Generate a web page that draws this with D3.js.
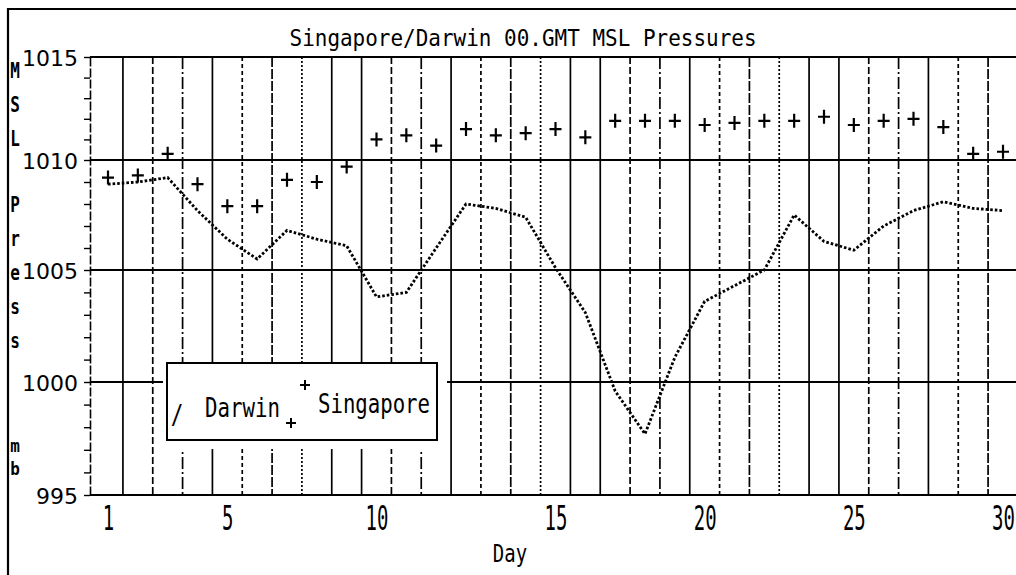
<!DOCTYPE html>
<html>
<head>
<meta charset="utf-8">
<script src="https://cdn.jsdelivr.net/npm/d3@7"></script>
<style>
body { margin: 0; background: #fff; }
svg { display: block; }
</style>
</head>
<body>
<svg id="chart" width="1016" height="575"></svg>
<script>
// daily 00 GMT readings
var days = [1,2,3,4,5,6,7,8,9,10,11,12,13,14,15,16,17,18,19,20,21,22,23,24,25,26,27,28,29,30,31];
var darwin = [1008.9,1009.0,1009.2,1007.7,1006.4,1005.5,1006.8,1006.4,1006.1,1003.8,1004.0,1006.0,1008.0,1007.8,1007.4,1005.1,1003.1,999.6,997.7,1001.1,1003.6,1004.3,1005.0,1007.5,1006.3,1005.9,1007.0,1007.7,1008.1,1007.8,1007.7];
var singapore = [1009.2,1009.3,1010.3,1008.9,1007.9,1007.9,1009.1,1009.0,1009.7,1011.0,1011.2,1010.7,1011.5,1011.2,1011.3,1011.5,1011.1,1011.9,1011.9,1011.9,1011.7,1011.8,1011.9,1011.9,1012.1,1011.7,1011.9,1012.0,1011.6,1010.3,1010.4];

// the printed day labels do not sit evenly on the day spacing
var dayTicks = [1,5,10,16,21,26,31];
var dayTickLabels = ["1","5","10","15","20","25","30"];
var pressTicks = [995,1000,1005,1010,1015];
var gridLevels = [1000,1005,1010];
var yTitleGroups = [["M","S","L"],["P","r","e","s","s"],["m","b"]];

var svg = d3.select("#chart");
var mono = "'DejaVu Sans Mono', 'Liberation Mono', monospace";

var left = 90, right = 1016;
var x = d3.scaleLinear().domain([1,31]).range([108,1003]);
// scan is slightly uneven, so the pressure scale is piecewise
var y = d3.scaleLinear().domain(pressTicks).range([495,382,270,160,57]);

// tall, narrow dot-matrix style text
function stretchText(parent, tx, ty, str, size, sy, anchor, len){
  var g = parent.append("g").attr("transform", "translate(" + tx + "," + ty + ") scale(1," + sy + ")");
  var t = g.append("text")
    .attr("font-family", mono)
    .attr("font-size", size)
    .attr("text-anchor", anchor || "start")
    .attr("fill", "#000")
    .text(str);
  if(len) t.attr("textLength", len).attr("lengthAdjust", "spacingAndGlyphs");
  return t;
}

// outer frame
svg.append("path")
  .attr("d", "M8,575V9H1016")
  .attr("fill", "none").attr("stroke", "#000").attr("stroke-width", 2.2);

stretchText(svg, 523, 46, "Singapore/Darwin 00.GMT MSL Pressures", 21, 1.12, "middle", 467);

// day separators, printed with uneven ribbons
var dashes = ["", "7,3", "12,3,2,3", "", "4,3", "10,2", "2,2", ""];
svg.append("g").selectAll("line")
  .data(days.slice(0, -1))
  .join("line")
  .attr("x1", d => x(d + 0.5)).attr("x2", d => x(d + 0.5))
  .attr("y1", y(1015)).attr("y2", y(995))
  .attr("stroke", "#000")
  .attr("stroke-width", 1.7)
  .attr("stroke-dasharray", (d, i) => dashes[i % dashes.length]);

// pressure gridlines and plot edges
svg.append("g").selectAll("line")
  .data(gridLevels.concat([995, 1015]))
  .join("line")
  .attr("x1", left).attr("x2", right)
  .attr("y1", d => y(d)).attr("y2", d => y(d))
  .attr("stroke", "#000")
  .attr("stroke-width", 2.2);

// y axis
var yAxis = d3.axisLeft(y)
  .tickValues(d3.range(995, 1016))
  .tickSize(6).tickSizeOuter(0).tickPadding(6)
  .tickFormat(d => d % 5 === 0 ? d : "");
var yg = svg.append("g").attr("transform", "translate(" + left + ",0)").call(yAxis);
yg.select(".domain").attr("stroke-width", 1.6).attr("stroke-dasharray", "9,2");
yg.selectAll(".tick line").attr("stroke-width", 1.4);
yg.selectAll(".tick text")
  .attr("font-family", "'DejaVu Sans', sans-serif")
  .attr("font-size", 22)
  .attr("dy", "0.38em");

// y title, one letter per row
var yTitleStarts = [72, 206, 446];
var yTitleSteps = [34, 34, 23];
var yTitleStretch = [1.3, 1.3, 1.1];
yTitleGroups.forEach((grp, gi) => {
  grp.forEach((ch, i) => {
    stretchText(svg, 15, yTitleStarts[gi] + i * yTitleSteps[gi] + 6, ch, 16, yTitleStretch[gi], "middle")
      .attr("font-weight", "bold");
  });
});

// x axis labels
var xAxis = d3.axisBottom(x)
  .tickValues(dayTicks)
  .tickSize(0).tickSizeOuter(0)
  .tickFormat((d, i) => dayTickLabels[i]);
var xg = svg.append("g").call(xAxis);
xg.select(".domain").remove();
xg.selectAll(".tick text")
  .attr("font-family", mono)
  .attr("font-size", 19)
  .attr("y", 0).attr("dy", 0)
  .attr("transform", "translate(0,530) scale(1,1.75)");

stretchText(svg, 510, 562, "Day", 19, 1.35, "middle");

// Darwin: dotted line
var line = d3.line()
  .x((d, i) => x(days[i]))
  .y(d => y(d));
svg.append("path")
  .datum(darwin)
  .attr("d", line)
  .attr("fill", "none")
  .attr("stroke", "#000")
  .attr("stroke-width", 2.8)
  .attr("stroke-dasharray", "2.6,2");

// Singapore: plus marks
svg.append("g").selectAll("path")
  .data(singapore)
  .join("path")
  .attr("transform", (d, i) => "translate(" + x(days[i]) + "," + y(d) + ")")
  .attr("d", "M-6,0H6M0,-7V7")
  .attr("stroke", "#000")
  .attr("stroke-width", 2.2);

// legend, blanked out of the grid
var lg = svg.append("g");
lg.append("rect")
  .attr("x", 163).attr("y", y(1000) - 19)
  .attr("width", 284).attr("height", 86)
  .attr("fill", "#fff");
lg.append("rect")
  .attr("x", 167).attr("y", y(1000) - 19)
  .attr("width", 270).attr("height", 77)
  .attr("fill", "none")
  .attr("stroke", "#000")
  .attr("stroke-width", 2);
stretchText(lg, 177, 424, "/", 21, 1.3, "middle");
stretchText(lg, 205, 417, "Darwin", 21, 1.25, "start", 75);
lg.append("path").attr("d", "M286,423H296M291,418V428").attr("stroke", "#000").attr("stroke-width", 2);
lg.append("path").attr("d", "M300,385H310M305,380V390").attr("stroke", "#000").attr("stroke-width", 2);
stretchText(lg, 318, 413, "Singapore", 21, 1.25, "start", 112);
</script>
</body>
</html>
